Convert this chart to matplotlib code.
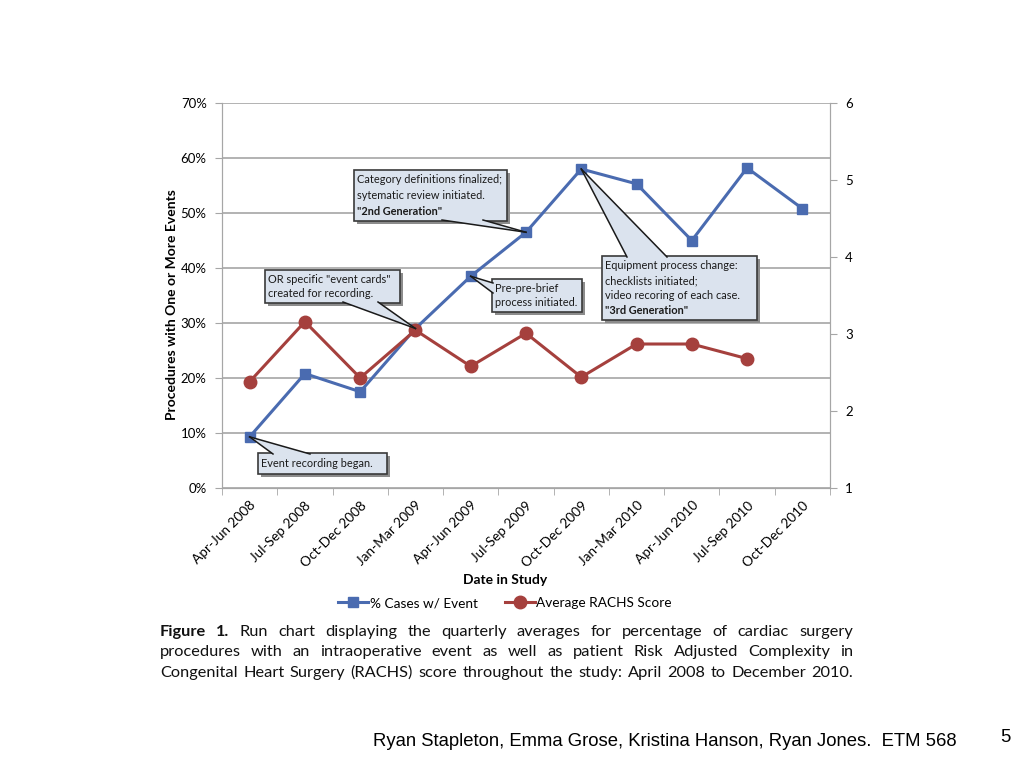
import numpy as np
import matplotlib
matplotlib.use("Agg")
import matplotlib.pyplot as plt
from matplotlib.patches import Rectangle, Polygon
from matplotlib.lines import Line2D

plt.rcParams['font.family'] = ['Lato', 'DejaVu Sans']

# data
quarters = ['Apr-Jun 2008', 'Jul-Sep 2008', 'Oct-Dec 2008', 'Jan-Mar 2009',
            'Apr-Jun 2009', 'Jul-Sep 2009', 'Oct-Dec 2009', 'Jan-Mar 2010',
            'Apr-Jun 2010', 'Jul-Sep 2010', 'Oct-Dec 2010']
pct_cases = [9.3, 20.8, 17.5, 29.0, 38.5, 46.5, 58.0, 55.3, 45.0, 58.2, 50.8]
rachs = [2.38, 3.16, 2.43, 3.05, 2.58, 3.01, 2.44, 2.87, 2.87, 2.68]

blue = '#4a6bb0'
red = '#a5403d'
grid_c = '#a6a6a6'
box_fc = '#dbe3ee'

W, H = 1024, 768
fig = plt.figure(figsize=(W/100, H/100), dpi=100)
ax = fig.add_axes([222/W, 1-488/H, 608/W, 385/H])
ax2 = ax.twinx()

x = np.arange(len(quarters))
ax.plot(x, pct_cases, color=blue, lw=2.2, marker='s', ms=6.5, zorder=3,
        label='% Cases w/ Event')
ax2.plot(x[:len(rachs)], rachs, color=red, lw=2.2, marker='o', ms=9, zorder=3,
         label='Average RACHS Score')

ax.set_xlim(-0.5, len(quarters) - 0.5)
ax.set_ylim(0, 70)
ax2.set_ylim(1, 6)
ax.set_yticks(np.arange(0, 71, 10))
ax.set_yticklabels(['%d%%' % v for v in range(0, 71, 10)], fontsize=9.5)
ax2.set_yticks(range(1, 7))
ax2.set_yticklabels([str(v) for v in range(1, 7)], fontsize=9.5)
ax.yaxis.grid(True, color=grid_c, lw=1.2)
ax.set_axisbelow(True)

ax.set_xticks(x)
ax.set_xticklabels(quarters, rotation=45, ha='right', rotation_mode='anchor',
                   fontsize=9.8)
ax.tick_params(axis='x', length=0, pad=8)
ax.set_xticks(np.arange(-0.5, len(quarters)), minor=True)
ax.tick_params(axis='x', which='minor', length=5, color=grid_c)
ax.tick_params(axis='y', length=5, color=grid_c, pad=6)
ax2.tick_params(axis='y', length=5, color=grid_c, pad=6)

for a in (ax, ax2):
    a.spines['top'].set_visible(False)
    for s in ('left', 'right', 'bottom'):
        a.spines[s].set_color(grid_c)

ax.set_ylabel('Procedures with One or More Events', fontsize=10,
              fontweight='bold', va='center')
ax.yaxis.set_label_coords((172 - 222) / 608, (488 - 305) / 385)
ax.set_xlabel('Date in Study', fontsize=10, fontweight='bold', va='center')
ax.xaxis.set_label_coords((505 - 222) / 608, (488 - 580) / 385)

h1, l1 = ax.get_legend_handles_labels()
h2, l2 = ax2.get_legend_handles_labels()
fig.legend(h1 + h2, l1 + l2, loc='center', bbox_to_anchor=(505/W, 1-603/H),
           ncol=2, frameon=False, fontsize=9.8, handlelength=2.2,
           handletextpad=0.1, columnspacing=2.0)

renderer = fig.canvas.get_renderer()

def fp(px, py):
    # image pixels (top-left origin) -> figure fraction
    return (px / W, 1 - py / H)

def callout(lines, bold_last, rect, base, idx, val):
    x0, y0, x1, y1 = rect
    # shadow + box
    fig.add_artist(Rectangle(fp(x0 + 3, y1 + 3), (x1 - x0)/W, (y1 - y0)/H,
                             transform=fig.transFigure, fc='#8c8c8c', ec='none',
                             zorder=10))
    fig.add_artist(Rectangle(fp(x0, y1), (x1 - x0)/W, (y1 - y0)/H,
                             transform=fig.transFigure, fc=box_fc, ec='#3a3a3a',
                             lw=1.2, zorder=11))
    # pointer wedge to the data point
    tip = fig.transFigure.inverted().transform(
        ax.transData.transform((idx, val)))
    b1, b2 = fp(*base[0]), fp(*base[1])
    fig.add_artist(Polygon([b1, tip, b2], closed=True, transform=fig.transFigure,
                           fc=box_fc, ec='none', zorder=12))
    for b in (b1, b2):
        fig.add_artist(Line2D([b[0], tip[0]], [b[1], tip[1]],
                              transform=fig.transFigure, color='#1a1a1a',
                              lw=1.1, zorder=13))
    n = len(lines)
    step = (y1 - y0 - 4) / n
    for i, ln in enumerate(lines):
        bold = bold_last and i == n - 1
        fig.text(*fp(x0 + 3, y0 + 2 + step * (i + 0.5)), ln, fontsize=7.9,
                 fontweight='bold' if bold else 'normal', va='center',
                 ha='left', color='#1a1a1a', zorder=14)

callout(['Category definitions finalized;', 'sytematic review initiated.',
         '"2nd Generation"'], True, (354, 170, 507, 221),
        [(442, 220), (483, 220)], 5, pct_cases[5])
callout(['OR specific "event cards"', 'created for recording.'], False,
        (265, 270, 400, 303), [(343, 302), (378, 302)], 3, pct_cases[3])
callout(['Pre-pre-brief', 'process initiated.'], False,
        (492, 279, 582, 312), [(493, 283), (493, 293)], 4, pct_cases[4])
callout(['Equipment process change:', 'checklists initiated;',
         'video recoring of each case.', '"3rd Generation"'], True,
        (602, 256, 757, 320), [(627, 257), (667, 257)], 6, pct_cases[6])
callout(['Event recording began.'], False, (258, 453, 387, 474),
        [(273, 454), (310, 454)], 0, pct_cases[0])

# justified caption
caption = [
    [('Figure', 'bold'), ('1.', 'bold'), 'Run', 'chart', 'displaying', 'the',
     'quarterly', 'averages', 'for', 'percentage', 'of', 'cardiac', 'surgery'],
    'procedures with an intraoperative event as well as patient Risk Adjusted '
    'Complexity in'.split(),
    'Congenital Heart Surgery (RACHS) score throughout the study: April 2008 '
    'to December 2010.'.split(),
]
cap_y = [632, 652, 673]
cx0, cx1 = 160, 853
for words, yy in zip(caption, cap_y):
    texts = []
    for w in words:
        if isinstance(w, tuple):
            w, wt = w
        else:
            wt = 'normal'
        texts.append(fig.text(0, 1 - yy/H, w, fontsize=11.8, fontweight=wt,
                              va='center', ha='left', color='#111111'))
    widths = [t.get_window_extent(renderer).width for t in texts]
    gap = (cx1 - cx0 - sum(widths)) / (len(texts) - 1)
    cur = cx0
    for t, wd in zip(texts, widths):
        t.set_x(cur / W)
        cur += wd + gap

fig.text(373/W, 1 - 741/H,
         'Ryan Stapleton, Emma Grose, Kristina Hanson, Ryan Jones.  ETM 568',
         fontsize=13.3, family='Liberation Sans', va='center', ha='left')
fig.text(1000/W, 1 - 738/H, '5', fontsize=13.3, family='Liberation Sans',
         va='center', ha='left')

fig.savefig('out.png', dpi=100)
